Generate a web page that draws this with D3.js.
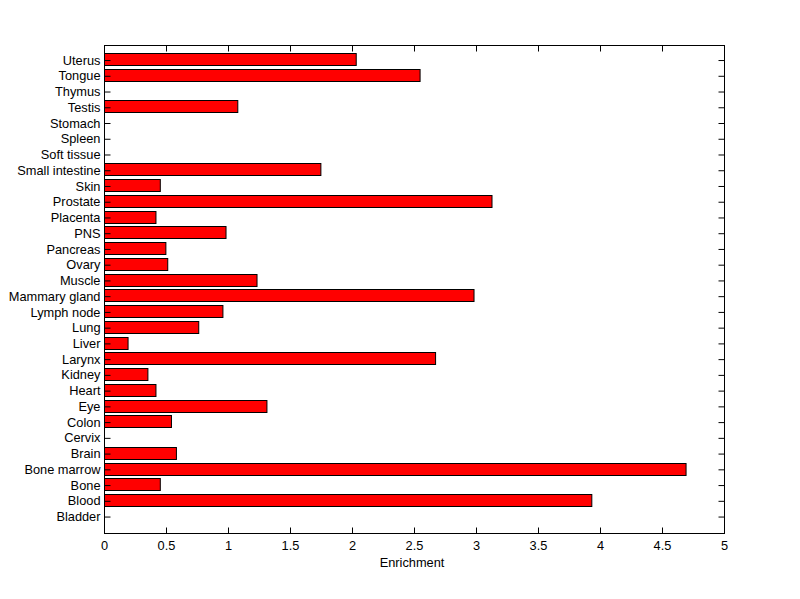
<!DOCTYPE html>
<html>
<head>
<meta charset="utf-8">
<script src="https://cdn.jsdelivr.net/npm/d3@7"></script>
<style>
  html, body { margin: 0; padding: 0; background: #fff; }
  svg { display: block; }
  text { font-family: "Liberation Sans", Arial, sans-serif; font-size: 12.8px; fill: #000; }
</style>
</head>
<body>
<div id="chart"></div>
<script>
// Categories from bottom to top
const categories = ["Bladder", "Blood", "Bone", "Bone marrow", "Brain", "Cervix", "Colon", "Eye",
  "Heart", "Kidney", "Larynx", "Liver", "Lung", "Lymph node", "Mammary gland", "Muscle",
  "Ovary", "Pancreas", "PNS", "Placenta", "Prostate", "Skin", "Small intestine", "Soft tissue",
  "Spleen", "Stomach", "Testis", "Thymus", "Tongue", "Uterus"];
const enrichment = [0, 3.93, 0.45, 4.69, 0.58, 0, 0.54, 1.31,
  0.415, 0.35, 2.67, 0.19, 0.76, 0.955, 2.98, 1.23,
  0.51, 0.495, 0.98, 0.415, 3.125, 0.45, 1.745, 0, 0,
  0, 1.075, 0, 2.545, 2.03];
const xTicks = [0, 0.5, 1, 1.5, 2, 2.5, 3, 3.5, 4, 4.5, 5];
const xLabel = "Enrichment";

const W = 800, H = 599;
const svg = d3.select("#chart").append("svg").attr("width", W).attr("height", H);

const x = d3.scaleLinear().domain([0, 5]).range([104.5, 724.5]);
const y = d3.scaleLinear().domain([0, categories.length + 1]).range([532.8, 44.8]);
const barH = 0.8;
const boxTop = 45.5, boxBottom = 533.5;

// Bars
svg.append("g").selectAll("rect")
  .data(categories.map((c, i) => ({ c, v: enrichment[i], pos: i + 1 })).filter(d => d.v > 0))
  .join("rect")
  .attr("x", x(0))
  .attr("y", d => Math.round(y(d.pos + barH / 2)) - 0.5)
  .attr("width", d => x(d.v) - x(0))
  .attr("height", 12)
  .attr("fill", "#ff0000")
  .attr("stroke", "#000")
  .attr("stroke-width", 1);

const tickLen = 6;
const yTickVals = categories.map((c, i) => i + 1);

// Bottom axis
const gB = svg.append("g").attr("transform", `translate(0,${boxBottom})`)
  .call(d3.axisBottom(x).tickValues(xTicks).tickFormat(d3.format("")).tickSizeInner(-tickLen).tickSizeOuter(0).tickPadding(7).offset(0));
// Top axis
const gT = svg.append("g").attr("transform", `translate(0,${boxTop})`)
  .call(d3.axisTop(x).tickValues(xTicks).tickFormat("").tickSizeInner(-tickLen).tickSizeOuter(0).offset(0));
// Left axis
const gL = svg.append("g").attr("transform", `translate(${x(0)},0)`)
  .call(d3.axisLeft(y).tickValues(yTickVals).tickFormat(d => categories[d - 1]).tickSizeInner(-tickLen).tickSizeOuter(0).tickPadding(4).offset(0));
// Right axis
const gR = svg.append("g").attr("transform", `translate(${x(5)},0)`)
  .call(d3.axisRight(y).tickValues(yTickVals).tickFormat("").tickSizeInner(-tickLen).tickSizeOuter(0).offset(0));

[gB, gT, gL, gR].forEach(g => {
  g.selectAll("text").attr("font-family", null).attr("font-size", null).attr("fill", "#000");
  g.selectAll("line").attr("stroke", "#000");
  g.select(".domain").remove();
});

// Axes box
svg.append("rect")
  .attr("x", x(0)).attr("y", boxTop)
  .attr("width", x(5) - x(0)).attr("height", boxBottom - boxTop)
  .attr("fill", "none").attr("stroke", "#000");

// x-axis label
svg.append("text")
  .attr("x", 412)
  .attr("y", 567)
  .attr("text-anchor", "middle")
  .text(xLabel);
</script>
</body>
</html>
